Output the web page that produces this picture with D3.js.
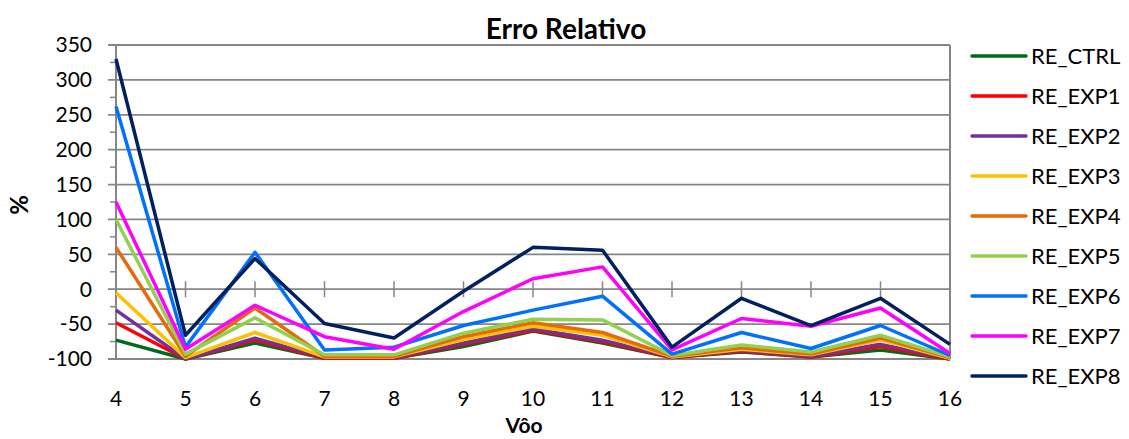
<!DOCTYPE html>
<html>
<head>
<meta charset="utf-8">
<script src="https://cdn.jsdelivr.net/npm/d3@7"></script>
<style>
  body { margin: 0; background: #fff; }
  text { font-family: Lato, "Noto Sans", sans-serif; fill: #000; }
</style>
</head>
<body>
<script>
var width = 1129,
    height = 439;

// flights on the x axis
var voos = [4, 5, 6, 7, 8, 9, 10, 11, 12, 13, 14, 15, 16];
var yTicks = [-100, -50, 0, 50, 100, 150, 200, 250, 300, 350];

var seriesNames = ["RE_CTRL", "RE_EXP1", "RE_EXP2", "RE_EXP3", "RE_EXP4", "RE_EXP5", "RE_EXP6", "RE_EXP7", "RE_EXP8"];
var seriesColors = ["#006a1e", "#ff0000", "#7030a0", "#ffc000", "#e36c0a", "#92d050", "#0070ff", "#ff00ff", "#002060"];

var reCtrl = [-73, -100, -77, -99, -99, -82, -60, -77, -98, -90, -97, -87, -100];
var reExp1 = [-48, -100, -73, -99, -99, -79, -59, -75, -98, -89, -97, -82, -100];
var reExp2 = [-30, -100, -70, -98, -98, -77, -57, -73, -97, -88, -96, -79, -99];
var reExp3 = [-5, -98, -62, -97, -97, -72, -53, -66, -97, -86, -94, -73, -99];
var reExp4 = [60, -96, -27, -96, -96, -68, -48, -62, -96, -84, -93, -70, -98];
var reExp5 = [100, -93, -41, -94, -94, -63, -43, -44, -95, -80, -90, -66, -97];
var reExp6 = [262, -83, 53, -87, -83, -52, -30, -10, -93, -62, -85, -52, -95];
var reExp7 = [125, -86, -23, -68, -86, -32, 15, 32, -87, -42, -53, -27, -92];
var reExp8 = [330, -66, 44, -49, -70, -3, 60, 56, -83, -13, -52, -13, -79];

var allValues = [reCtrl, reExp1, reExp2, reExp3, reExp4, reExp5, reExp6, reExp7, reExp8];

var margin = {left: 116, right: 179, top: 45, bottom: 80};

var x = d3.scalePoint()
    .domain(voos)
    .range([margin.left, width - margin.right]);

var y = d3.scaleLinear()
    .domain([-100, 350])
    .range([height - margin.bottom, margin.top]);

var svg = d3.select("body").append("svg")
    .attr("width", width)
    .attr("height", height);

var grid = "#868686";

// horizontal gridlines
svg.append("g").selectAll("line")
    .data(yTicks)
    .enter().append("line")
    .attr("x1", margin.left - 8)
    .attr("x2", width - margin.right)
    .attr("y1", d => y(d))
    .attr("y2", d => y(d))
    .attr("stroke", grid)
    .attr("stroke-width", 1.8);

// minor ticks on y axis
svg.append("g").selectAll("line")
    .data(d3.range(-75, 350, 50))
    .enter().append("line")
    .attr("x1", margin.left - 6)
    .attr("x2", margin.left)
    .attr("y1", d => y(d))
    .attr("y2", d => y(d))
    .attr("stroke", grid)
    .attr("stroke-width", 1.5);

// y axis and right border
svg.append("line")
    .attr("x1", margin.left).attr("x2", margin.left)
    .attr("y1", y(350)).attr("y2", y(-100))
    .attr("stroke", grid).attr("stroke-width", 2);
svg.append("line")
    .attr("x1", width - margin.right).attr("x2", width - margin.right)
    .attr("y1", y(350)).attr("y2", y(-100))
    .attr("stroke", grid).attr("stroke-width", 2);

// category tick marks crossing at zero
svg.append("g").selectAll("line")
    .data(voos.slice(1, -1))
    .enter().append("line")
    .attr("x1", d => x(d)).attr("x2", d => x(d))
    .attr("y1", y(0) - 8).attr("y2", y(0) + 8)
    .attr("stroke", grid)
    .attr("stroke-width", 1.5);

// y tick labels
svg.append("g").selectAll("text")
    .data(yTicks)
    .enter().append("text")
    .attr("x", 92)
    .attr("y", d => y(d))
    .attr("dy", "0.35em")
    .attr("text-anchor", "end")
    .style("font-size", "21px")
    .text(d => d);

// x tick labels
svg.append("g").selectAll("text")
    .data(voos)
    .enter().append("text")
    .attr("x", d => x(d))
    .attr("y", 406)
    .attr("text-anchor", "middle")
    .style("font-size", "21px")
    .text(d => d);

var line = d3.line()
    .x((d, i) => x(voos[i]))
    .y(d => y(d));

svg.append("g").selectAll("path")
    .data(allValues)
    .enter().append("path")
    .attr("d", d => line(d))
    .attr("fill", "none")
    .attr("stroke", (d, i) => seriesColors[i])
    .attr("stroke-width", 3.5)
    .attr("stroke-linejoin", "round");

// titles
svg.append("text")
    .attr("x", 566).attr("y", 39)
    .attr("text-anchor", "middle")
    .style("font-size", "28px").style("font-weight", "bold")
    .text("Erro Relativo");

svg.append("text")
    .attr("x", 524).attr("y", 433)
    .attr("text-anchor", "middle")
    .style("font-size", "21px").style("font-weight", "bold")
    .text("Vôo");

svg.append("text")
    .attr("transform", "translate(28,205) rotate(-90)")
    .attr("text-anchor", "middle")
    .style("font-size", "24px").style("font-weight", "bold")
    .text("%");

// legend
var legend = svg.append("g").selectAll("g")
    .data(seriesNames)
    .enter().append("g")
    .attr("transform", (d, i) => "translate(972," + (56 + i * 40) + ")");

legend.append("line")
    .attr("x1", 0).attr("x2", 54)
    .attr("stroke", (d, i) => seriesColors[i])
    .attr("stroke-width", 3.5)
    .attr("stroke-linecap", "round");

legend.append("text")
    .attr("x", 59)
    .attr("dy", "0.35em")
    .style("font-size", "22px")
    .text(d => d);
</script>
</body>
</html>
